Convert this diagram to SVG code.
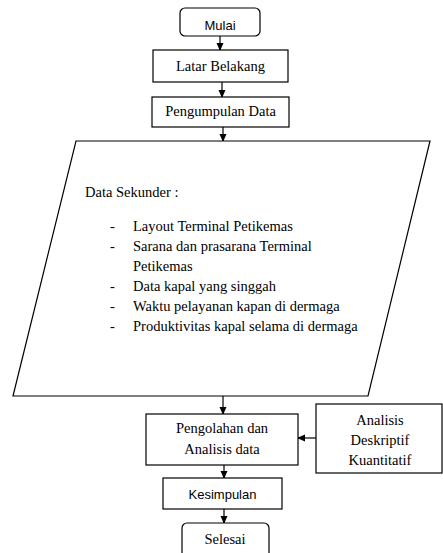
<svg xmlns="http://www.w3.org/2000/svg" width="443" height="553" viewBox="0 0 443 553">
<defs>
<style>
.box{fill:#fff;stroke:#000;stroke-width:1.2}
.ln{stroke:#000;stroke-width:1.2;fill:none}
.serif{font-family:"Liberation Serif","Times New Roman",serif;font-size:14.5px;fill:#000}
.sans{font-family:"Liberation Sans",Arial,sans-serif;font-size:13px;fill:#000}
.c{text-anchor:middle}
</style>
<marker id="ah" markerWidth="8" markerHeight="8" refX="7" refY="4" orient="auto" markerUnits="userSpaceOnUse">
<path d="M0,0.5 L8,4 L0,7.5 z" fill="#000"/>
</marker>
</defs>
<rect width="443" height="553" fill="#fff"/>
<g id="connectors">
<line class="ln" x1="220" y1="36" x2="220" y2="50" marker-end="url(#ah)"/>
<line class="ln" x1="222" y1="82" x2="222" y2="97" marker-end="url(#ah)"/>
<line class="ln" x1="223" y1="127" x2="223" y2="141" marker-end="url(#ah)"/>
<line class="ln" x1="223" y1="396" x2="223" y2="414" marker-end="url(#ah)"/>
<line class="ln" x1="316" y1="438" x2="298" y2="438" marker-end="url(#ah)"/>
<line class="ln" x1="224" y1="465" x2="224" y2="478" marker-end="url(#ah)"/>
<line class="ln" x1="224" y1="509" x2="224" y2="523" marker-end="url(#ah)"/>
</g>
<g id="mulai">
<rect class="box" x="180" y="8" width="80" height="28" rx="5"/>
<text class="sans c" x="220" y="30">Mulai</text>
</g>
<g id="latar">
<rect class="box" x="153" y="50" width="135" height="32"/>
<text class="serif c" x="220.5" y="71">Latar Belakang</text>
</g>
<g id="pengumpulan">
<rect class="box" x="152" y="97" width="137" height="30"/>
<text class="serif c" x="220.5" y="116">Pengumpulan Data</text>
</g>
<g id="data">
<polygon class="box" points="76,141 430,141 368,396 13,396"/>
<text class="serif" x="85" y="197">Data Sekunder :</text>
<text class="serif" x="110" y="231">-</text>
<text class="serif" x="133" y="231">Layout Terminal Petikemas</text>
<text class="serif" x="110" y="251">-</text>
<text class="serif" x="133" y="251">Sarana dan prasarana Terminal</text>
<text class="serif" x="133" y="271">Petikemas</text>
<text class="serif" x="110" y="291">-</text>
<text class="serif" x="133" y="291">Data kapal yang singgah</text>
<text class="serif" x="110" y="311">-</text>
<text class="serif" x="133" y="311">Waktu pelayanan kapan di dermaga</text>
<text class="serif" x="110" y="331">-</text>
<text class="serif" x="133" y="331">Produktivitas kapal selama di dermaga</text>
</g>
<g id="pengolahan">
<rect class="box" x="146" y="414" width="152" height="51"/>
<text class="serif c" x="222" y="433">Pengolahan dan</text>
<text class="serif c" x="222" y="454">Analisis data</text>
</g>
<g id="analisis">
<rect class="box" x="316" y="404" width="126" height="69"/>
<text class="serif c" x="380" y="425">Analisis</text>
<text class="serif c" x="380" y="445">Deskriptif</text>
<text class="serif c" x="380" y="465">Kuantitatif</text>
</g>
<g id="kesimpulan">
<rect class="box" x="163" y="478" width="119" height="31"/>
<text class="sans c" x="222.5" y="499">Kesimpulan</text>
</g>
<g id="selesai">
<rect class="box" x="182" y="523" width="87" height="40" rx="5"/>
<text class="serif c" x="225" y="544">Selesai</text>
</g>
</svg>
